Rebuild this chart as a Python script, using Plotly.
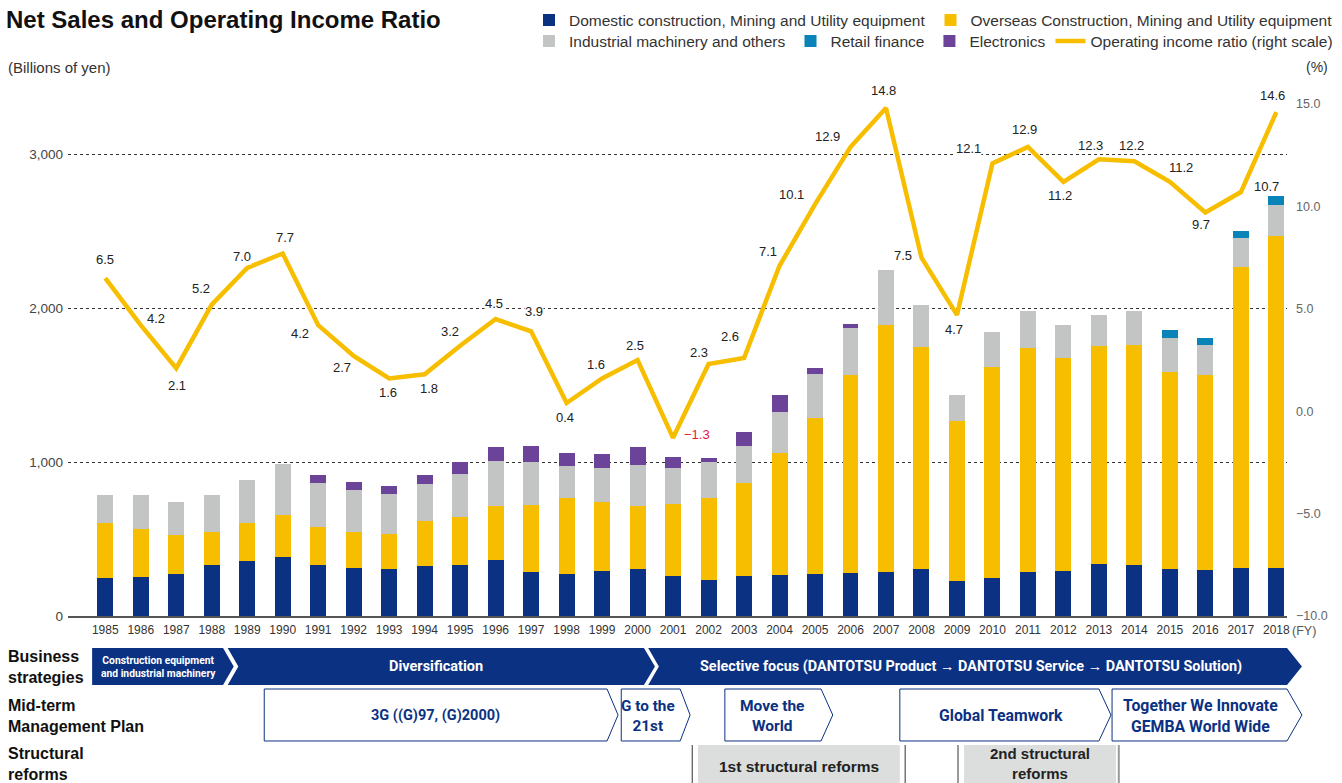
import plotly.graph_objects as go

# ---- data -------------------------------------------------------------
years = list(range(1985, 2019))

domestic = [248, 253, 271, 329, 355, 381, 329, 311, 304, 323,
            329, 362, 283, 271, 290, 304, 258, 232, 258, 265,
            271, 278, 283, 304, 225, 248, 283, 290, 336, 329,
            304, 297, 311, 311]
overseas = [355, 311, 256, 216, 248, 276, 249, 234, 227, 292,
            314, 350, 436, 497, 452, 408, 468, 536, 607, 795,
            1017, 1288, 1610, 1443, 1040, 1369, 1459, 1387, 1416, 1432,
            1278, 1267, 1956, 2155]
industrial = [186, 220, 211, 244, 279, 329, 285, 272, 260, 241,
              278, 293, 279, 204, 219, 267, 235, 230, 237, 263,
              283, 306, 353, 272, 169, 225, 237, 212, 202, 218,
              223, 195, 190, 202]
retail_finance = [None] * 30 + [51, 48, 42, 58]
electronics = ([None] * 6
               + [51, 51, 51, 58, 77, 90, 104, 86, 90, 116, 69, 28, 91, 111, 39, 24]
               + [None] * 12)
op_ratio = [6.5, 4.2, 2.1, 5.2, 7.0, 7.7, 4.2, 2.7, 1.6, 1.8,
            3.2, 4.5, 3.9, 0.4, 1.6, 2.5, -1.3, 2.3, 2.6, 7.1,
            10.1, 12.9, 14.8, 7.5, 4.7, 12.1, 12.9, 11.2, 12.3, 12.2,
            11.2, 9.7, 10.7, 14.6]

left_ticks = [0, 1000, 2000, 3000]
right_ticks = [-10, -5, 0, 5, 10, 15]

# label placement around each ratio point (pixel offsets: right, down)
label_offsets = [(0, -19), (15, -7), (1, 17), (-11, -16), (-5, -11), (2, -16),
                 (-18, 8), (-12, 12), (-1, 14), (4, 14), (-10, -14), (-2, -16),
                 (3, -20), (-2, 14), (-6, -14), (-3, -15), (24, -3), (-10, -12),
                 (-14, -21), (-12, -14), (-24, -10), (-23, -11), (-2, -18), (-18, -2),
                 (-3, 15), (-24, -15), (-3, -18), (-3, 14), (-8, -14), (-3, -16),
                 (11, -14), (-4, 12), (26, -6), (-4, -17)]

# ---- styling ------------------------------------------------------------
NAVY = "#0B3182"
GOLD = "#F7BE00"
GREY = "#C3C4C4"
TEAL = "#0983B8"
PURPLE = "#6B449A"
BASE_FONT = "'Liberation Sans', Arial, Helvetica, sans-serif"
NARROW_FONT = "'Liberation Sans Narrow', 'Arial Narrow', Roboto, sans-serif"

W, H = 1342, 783
M_L, M_R, M_T, M_B = 68, 55, 104, 167
PLOT_W = W - M_L - M_R
PLOT_H = H - M_T - M_B
X0, X1 = 1983.95, 2018.3

fig = go.Figure()

bar_series = [
    ("Domestic construction, Mining and Utility equipment", domestic, NAVY, "legend"),
    ("Overseas Construction, Mining and Utility equipment", overseas, GOLD, "legend"),
    ("Industrial machinery and others", industrial, GREY, "legend2"),
    ("Retail finance", retail_finance, TEAL, "legend2"),
    ("Electronics", electronics, PURPLE, "legend2"),
]
for name, vals, color, lg in bar_series:
    fig.add_trace(go.Bar(x=years, y=vals, name=name, marker=dict(color=color, line=dict(width=0)),
                         width=0.45, legend=lg, yaxis="y"))

fig.add_trace(go.Scatter(x=years, y=op_ratio, name="Operating income ratio (right scale)",
                         mode="lines", line=dict(color=GOLD, width=4.5), yaxis="y2",
                         legend="legend2"))

# value labels for the ratio line
annotations = []
for yr, v, (dx, dy) in zip(years, op_ratio, label_offsets):
    txt = f"{v:.1f}".replace("-", "\u2212")
    annotations.append(dict(x=yr, y=v, xref="x", yref="y2", text=txt, showarrow=False,
                            xshift=dx, yshift=-dy, bgcolor="white", borderpad=0,
                            font=dict(size=13, color="#E8173A" if v < 0 else "#222",
                                      family=BASE_FONT)))


def xp(year):
    """fiscal-year position -> paper x"""
    return (year - X0) / (X1 - X0)


def yp(px_below):
    """pixels below the x axis -> paper y"""
    return -px_below / PLOT_H


def pxx(px):
    """page pixel column -> paper x"""
    return (px - M_L) / PLOT_W


def pxy(py):
    """page pixel row -> paper y"""
    return (H - M_B - py) / PLOT_H


def arrow_path(left, right, tip, top, bottom, notch=None):
    t, b = yp(top), yp(bottom)
    m = (t + b) / 2
    pts = [(xp(left), t), (xp(right), t), (xp(tip), m), (xp(right), b), (xp(left), b)]
    if notch is not None:
        pts.append((xp(notch), m))
    return "M " + " L ".join(f"{x:.5f},{y:.5f}" for x, y in pts) + " Z"


shapes = []
# business strategies band
BS_TOP, BS_BOT = 32, 69
for left, right, tip, notch in [(1984.63, 1988.32, 1988.62, None),
                                (1988.45, 2000.18, 2000.49, 1988.75),
                                (2000.30, 2018.30, 2018.72, 2000.60)]:
    shapes.append(dict(type="path", xref="paper", yref="paper", layer="above",
                       path=arrow_path(left, right, tip, BS_TOP, BS_BOT, notch),
                       fillcolor=NAVY, line=dict(width=0)))

# mid-term management plans
MT_TOP, MT_BOT = 73, 125
for left, right, tip in [(1989.48, 1999.14, 1999.45), (1999.54, 2001.20, 2001.48),
                         (2002.46, 2005.17, 2005.50), (2007.39, 2013.00, 2013.34),
                         (2013.37, 2018.30, 2018.72)]:
    shapes.append(dict(type="path", xref="paper", yref="paper", layer="above",
                       path=arrow_path(left, right, tip, MT_TOP, MT_BOT),
                       fillcolor="white", line=dict(color=NAVY, width=1)))

# structural reforms
SR_TOP, SR_BOT = 129, 175
for left, right in [(2001.70, 2007.39), (2009.20, 2013.48)]:
    shapes.append(dict(type="rect", xref="paper", yref="paper", layer="above",
                       x0=xp(left), x1=xp(right), y0=yp(SR_TOP), y1=yp(SR_BOT),
                       fillcolor="#DCDDDD", line=dict(width=0)))
for xpos, col, w in [(2001.54, "#333", 1), (2007.54, "#333", 1),
                     (2009.03, "#999", 2), (2013.56, "#999", 2)]:
    shapes.append(dict(type="line", xref="paper", yref="paper", layer="above",
                       x0=xp(xpos), x1=xp(xpos), y0=yp(SR_TOP), y1=yp(SR_BOT),
                       line=dict(color=col, width=w)))


def note(x, y, text, size, color, family=NARROW_FONT, anchor="center"):
    annotations.append(dict(x=x, y=y, xref="paper", yref="paper", text=text, showarrow=False,
                            xanchor=anchor, yanchor="middle", align=anchor if anchor != "center" else "center",
                            font=dict(size=size, color=color, family=family)))


# timeline texts
note(xp(1986.5), yp(50.5), "<b>Construction equipment<br>and industrial machinery</b>", 10.3, "white")
note(xp(1994.33), yp(50.5), "<b>Diversification</b>", 14.5, "white")
note(xp(2009.4), yp(50.5),
     "<b>Selective focus (DANTOTSU Product \u2192 DANTOTSU Service \u2192 DANTOTSU Solution)</b>",
     14.4, "white")
note(xp(1994.3), yp(99.5), "<b>3G ((G)97, (G)2000)</b>", 14.5, NAVY)
note(xp(2000.3), yp(99.5), "<b>G to the<br>21st</b>", 15.3, NAVY)
note(xp(2003.8), yp(99.5), "<b>Move the<br>World</b>", 15.5, NAVY)
note(xp(2010.25), yp(99.5), "<b>Global Teamwork</b>", 15.8, NAVY)
note(xp(2015.85), yp(99.5), "<b>Together We Innovate<br>GEMBA World Wide</b>", 15.8, NAVY)
note(xp(2004.55), yp(150), "<b>1st structural reforms</b>", 15.5, "#222", BASE_FONT)
note(xp(2011.35), yp(147), "<b>2nd structural<br>reforms</b>", 15, "#222", BASE_FONT)

# row headings
note(pxx(6), yp(50.5), "<b>Business<br>strategies</b>", 16, "#111", BASE_FONT, "left")
note(pxx(6), yp(99.5), "<b>Mid-term<br>Management Plan</b>", 16, "#111", BASE_FONT, "left")
note(pxx(6), yp(147.5), "<b>Structural<br>reforms</b>", 16, "#111", BASE_FONT, "left")

# axis captions
note(pxx(6), pxy(67), "(Billions of yen)", 15, "#333", BASE_FONT, "left")
note(pxx(1330), pxy(67), "(%)", 14, "#333", BASE_FONT, "right")
note(xp(2018.38), yp(15), "(FY)", 12.5, "#555", BASE_FONT, "left")

fig.update_layout(
    width=W, height=H,
    margin=dict(l=M_L, r=M_R, t=M_T, b=M_B),
    paper_bgcolor="white", plot_bgcolor="white",
    barmode="stack",
    font=dict(family=BASE_FONT, color="#333"),
    title=dict(text="<b>Net Sales and Operating Income Ratio</b>", x=6 / W, xanchor="left",
               y=1 - 20 / H, yanchor="middle", font=dict(size=24, color="#111", family=BASE_FONT)),
    xaxis=dict(range=[X0, X1], tickvals=years, ticktext=[str(y) for y in years], showgrid=False,
               showline=True, linecolor="#555", linewidth=2, ticks="", zeroline=False,
               tickfont=dict(size=12, color="#333"), ticklabelstandoff=2),
    yaxis=dict(range=[0, 3325], tickvals=left_ticks, ticktext=[f"{v:,}" for v in left_ticks],
               showgrid=True, gridcolor="#333", gridwidth=1, griddash="3px,3px", zeroline=False,
               ticks="", tickfont=dict(size=13.5, color="#444"), ticklabelstandoff=4),
    yaxis2=dict(range=[-10, 15], overlaying="y", side="right", tickvals=right_ticks,
                ticktext=[f"{v:.1f}".replace("-", "\u2212") for v in right_ticks],
                showgrid=False, zeroline=False, ticks="", tickfont=dict(size=12.5, color="#666"),
                ticklabelstandoff=8),
    legend=dict(orientation="h", xref="container", yref="container", x=1338 / W, xanchor="right",
                y=1 - 3.5 / H, yanchor="top", font=dict(size=15.5, color="#333"), itemwidth=30,
                bgcolor="rgba(0,0,0,0)", traceorder="normal"),
    legend2=dict(orientation="h", xref="container", yref="container", x=1338 / W, xanchor="right",
                 y=1 - 24.5 / H, yanchor="top", font=dict(size=15.5, color="#333"), itemwidth=30,
                 bgcolor="rgba(0,0,0,0)", traceorder="normal"),
    shapes=shapes,
    annotations=annotations,
)

fig.write_html("out.html")
